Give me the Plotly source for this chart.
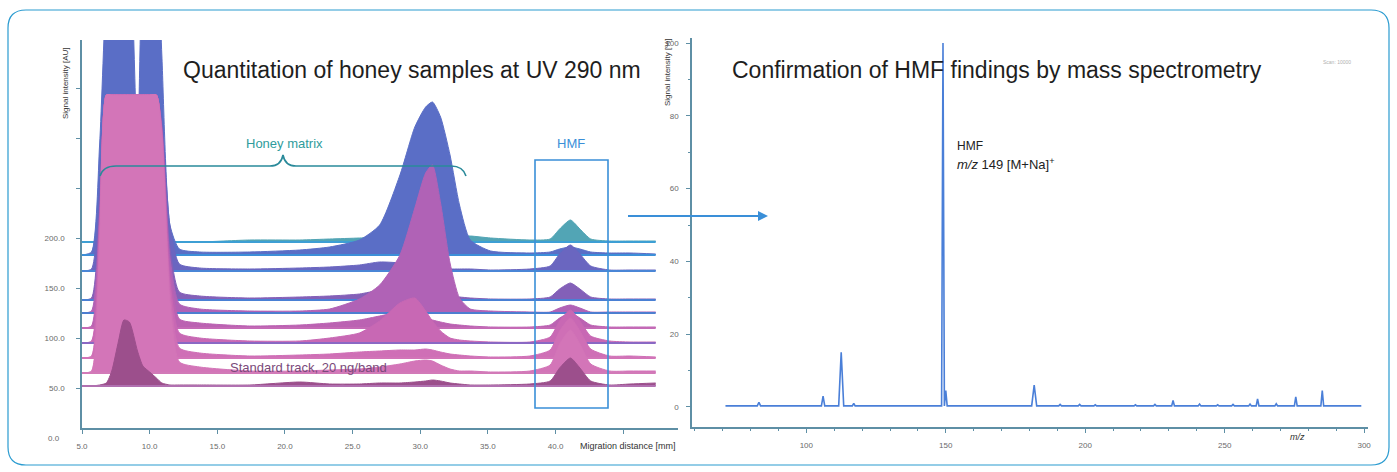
import plotly.graph_objects as go

W, H = 1397, 472

# ---------------- Left panel: HPTLC densitograms (waterfall) ----------------
migration_mm = [5.0, 5.7, 6.3, 6.8, 7.2, 7.7, 8.1, 8.5, 9.1, 9.5, 10.0, 10.5, 10.9, 11.5, 12.2, 13.7,
                17.4, 21.1, 23.3, 25.5, 27.0, 28.5, 29.6, 30.4, 30.9, 31.5, 32.2, 32.9, 33.7, 35.2, 38.1,
                39.6, 40.3, 41.1, 41.8, 42.6, 44.0, 45.5, 47.4]

track_offsets = [196, 183, 167, 138, 125, 110, 95, 80, 65, 52]

track1 = [0, 0, 0, 0, 0, 0, 0, 0, 0, 0, 0, 0, 0, 0, 0, 0,
          2, 2, 3, 4, 5, 6, 8, 10, 10, 9, 8, 6, 6, 4, 2,
          3, 13, 22, 13, 3, 1, 1, 1]
track2 = [0, 3, 110, 270, 330, 340, 340, 320, 105, 300, 340, 320, 200, 30, 6, 3,
          3, 5, 8, 15, 30, 80, 128, 148, 153, 138, 100, 50, 15, 4, 2,
          3, 6, 8, 6, 3, 2, 2, 1]
track3 = [0, 2, 79, 176, 176, 176, 176, 176, 176, 176, 176, 176, 150, 45, 7, 3,
          2, 3, 4, 6, 9, 8, 5, 4, 4, 3, 2, 2, 2, 1, 2,
          5, 17, 26, 17, 5, 1, 1, 1]
track4 = [0, 2, 92, 205, 205, 205, 205, 205, 205, 205, 205, 205, 174, 52, 8, 4,
          2, 3, 4, 6, 10, 14, 12, 10, 8, 6, 4, 3, 2, 1, 1,
          3, 11, 17, 11, 3, 1, 1, 1]
track5 = [0, 2, 98, 218, 218, 218, 218, 218, 218, 218, 218, 218, 185, 55, 9, 4,
          2, 2, 4, 14, 28, 58, 105, 140, 148, 110, 50, 15, 4, 2, 1,
          1, 5, 8, 5, 1, 1, 1, 1]
track6 = [0, 2, 105, 233, 233, 233, 233, 233, 233, 233, 233, 233, 198, 58, 9, 5,
          2, 3, 5, 8, 12, 16, 14, 10, 8, 6, 4, 3, 2, 1, 1,
          3, 10, 15, 10, 3, 1, 1, 1]
track7 = [0, 2, 112, 248, 248, 248, 248, 248, 248, 248, 248, 248, 211, 62, 10, 5,
          2, 2, 5, 10, 22, 40, 45, 32, 22, 12, 5, 3, 2, 1, 1,
          6, 22, 33, 22, 7, 2, 1, 1]
track8 = [0, 2, 118, 263, 263, 263, 263, 263, 263, 263, 263, 263, 224, 66, 10, 5,
          2, 3, 4, 6, 7, 8, 8, 9, 8, 6, 4, 3, 2, 1, 2,
          8, 27, 40, 27, 9, 2, 2, 1]
track9 = [0, 2, 125, 278, 278, 278, 278, 278, 278, 278, 278, 278, 236, 70, 11, 6,
          2, 2, 3, 4, 6, 9, 12, 13, 12, 8, 4, 2, 2, 1, 2,
          8, 29, 43, 29, 9, 2, 2, 2]
track10 = [0, 0, 1, 3, 15, 45, 66, 64, 35, 20, 14, 8, 3, 1, 1, 1,
           1, 4, 2, 2, 3, 3, 4, 5, 6, 5, 3, 2, 1, 1, 2,
           5, 18, 28, 18, 5, 1, 2, 3]
tracks = [track1, track2, track3, track4, track5, track6, track7, track8, track9, track10]

fill_colors = ['#52a5b5', '#5a6ec6', '#6a66c0', '#8360b8', '#b062b6',
               '#bb62b2', '#c868b4', '#cf6fb6', '#d375b8', '#9c4f8c']
line_colors = ['#3d9fd4', '#3d8fd8', '#4a86d6', '#4a80d4', '#4d7ed0',
               '#c46ab6', '#8a68c4', '#d274b8', '#d27ab8', '#b070b0']

x_ticks_mm = [5, 10, 15, 20, 25, 30, 35, 40, 45]
x_tick_text = ['5.0', '10.0', '15.0', '20.0', '25.0', '30.0', '35.0', '40.0', ' ']
y_ticks_au = [50, 100, 150, 200, 250, 300, 350]
y_tick_text = ['50.0', '100.0', '150.0', '200.0', ' ', ' ', ' ']

# ---------------- Right panel: mass spectrum ----------------
mz = [71.0, 82.4, 83.0, 83.6, 104.0, 105.4, 106.0, 106.6, 111.6, 112.5, 113.4, 116.5, 117.0, 117.5,
      147.0, 148.5, 149.0, 149.5, 150.0, 150.5, 152.0, 180.8, 181.7, 182.6, 190.5, 191.0, 191.5,
      197.5, 198.0, 198.5, 203.1, 203.6, 204.1, 213.1, 213.6, 214.1, 217.5, 218.0, 218.5,
      224.5, 225.0, 225.5, 231.0, 231.5, 232.0, 240.5, 241.0, 241.5, 247.0, 247.5, 248.0,
      252.5, 253.0, 253.5, 258.6, 259.1, 259.6, 261.3, 261.8, 262.3, 268.0, 268.5, 269.0,
      275.0, 275.5, 276.0, 284.5, 285.0, 285.5, 299.0]
intensity = [0.3, 0.3, 1.3, 0.3, 0.3, 0.3, 3.0, 0.3, 0.3, 15.0, 0.3, 0.3, 1.0, 0.3,
             0.3, 0.3, 100.0, 0.3, 4.5, 0.3, 0.3, 0.3, 6.0, 0.3, 0.3, 0.7, 0.3,
             0.3, 0.7, 0.3, 0.3, 0.6, 0.3, 0.3, 0.5, 0.3, 0.3, 0.6, 0.3,
             0.3, 0.7, 0.3, 0.3, 1.8, 0.3, 0.3, 0.8, 0.3, 0.3, 0.6, 0.3,
             0.3, 0.7, 0.3, 0.3, 0.8, 0.3, 0.3, 2.2, 0.3, 0.3, 0.9, 0.3,
             0.3, 2.8, 0.3, 0.3, 4.5, 0.3, 0.3]
mz_ticks = [100, 150, 200, 250, 300]
pct_ticks = [0, 20, 40, 60, 80, 100]

FONT = 'Liberation Sans, Arial, sans-serif'
AXIS_COLOR = '#5e8fa5'
TICK_FONT = dict(family=FONT, size=8, color='#6a6a6a')


def px(x):
    return x / W


def py(y):
    return 1 - y / H


fig = go.Figure()

for off, h, fc, lc in zip(track_offsets, tracks, fill_colors, line_colors):
    base = [off] * len(migration_mm)
    fig.add_trace(go.Scatter(x=migration_mm, y=base, mode='lines', line=dict(width=0, color=lc),
                             xaxis='x', yaxis='y', hoverinfo='skip', showlegend=False))
    fig.add_trace(go.Scatter(x=migration_mm, y=[off + v for v in h], mode='lines',
                             line=dict(width=1, color=fc, shape='spline', smoothing=0.6),
                             fill='tonexty', fillcolor=fc, opacity=0.95,
                             xaxis='x', yaxis='y', hoverinfo='skip', showlegend=False))
    fig.add_trace(go.Scatter(x=migration_mm, y=base, mode='lines', line=dict(width=2, color=lc),
                             xaxis='x', yaxis='y', hoverinfo='skip', showlegend=False))

fig.add_trace(go.Scatter(x=mz, y=intensity, mode='lines', line=dict(width=1.6, color='#4a7fd8'),
                         xaxis='x2', yaxis='y2', hoverinfo='skip', showlegend=False))

common_axis = dict(showline=True, linecolor=AXIS_COLOR, linewidth=1.5, ticks='outside',
                   tickcolor=AXIS_COLOR, ticklen=4, tickfont=TICK_FONT, showgrid=False,
                   zeroline=False, automargin=False)

fig.update_layout(
    width=W, height=H,
    margin=dict(l=0, r=0, t=0, b=0),
    paper_bgcolor='white', plot_bgcolor='rgba(0,0,0,0)',
    showlegend=False,
    xaxis=dict(domain=[px(82), px(678)], range=[5.0, 49.05], anchor='y',
               tickvals=x_ticks_mm, ticktext=x_tick_text, ticklabelstandoff=6, **common_axis),
    yaxis=dict(domain=[py(428), py(40)], range=[10, 398], anchor='x',
               tickvals=y_ticks_au, ticktext=y_tick_text, ticklabelstandoff=10, **common_axis),
    xaxis2=dict(domain=[px(692), px(1368)], range=[59, 301.4], anchor='y2',
                tickvals=mz_ticks, ticklabelstandoff=6,
                minor=dict(dtick=10, tick0=0, ticks='outside', ticklen=2, tickcolor=AXIS_COLOR),
                **common_axis),
    yaxis2=dict(domain=[py(427), py(38)], range=[-5.5, 101.4], anchor='x2',
                tickvals=pct_ticks, ticklabelstandoff=6,
                minor=dict(dtick=10, tick0=0, ticks='outside', ticklen=2, tickcolor=AXIS_COLOR),
                **common_axis),
)


def ann(x, y, text, size=11, color='#222222', xanchor='center', angle=0, **kw):
    fig.add_annotation(x=px(x), y=py(y), xref='paper', yref='paper', text=text, showarrow=False,
                       xanchor=xanchor, yanchor='middle', textangle=angle,
                       font=dict(family=FONT, size=size, color=color), **kw)


ann(412, 70, 'Quantitation of honey samples at UV 290 nm', size=23, color='#1e1e1e')
ann(997, 70, 'Confirmation of HMF findings by mass spectrometry', size=23, color='#1e1e1e')
ann(284, 143, 'Honey matrix', size=13, color='#2f9c9c')
ann(571, 143, 'HMF', size=13, color='#3a8fd8')
ann(308, 367, 'Standard track, 20 ng/band', size=13, color='#7a4a7a')
ann(955, 146, 'HMF', size=12, xanchor='left')
ann(955, 164, '<i>m/z</i> 149 [M+Na]<sup>+</sup>', size=13, xanchor='left')
ann(66, 83, 'Signal intensity [AU]', size=8, color='#333333', angle=-90)
ann(667, 72, 'Signal intensity [%]', size=8, color='#333333', angle=-90)
ann(628, 446, 'Migration distance [mm]', size=9, color='#333333')
ann(1297, 437, '<i>m/z</i>', size=9, color='#333333')
ann(54, 438, '0.0', size=8, color='#6a6a6a')
ann(1337, 62, 'Scan: 10000', size=5, color='#b0b0b0')

# arrow from chromatogram to mass spectrum
fig.add_annotation(x=px(768), y=py(216), xref='paper', yref='paper', ax=-143, ay=0,
                   axref='pixel', ayref='pixel', text=' ', showarrow=True,
                   arrowhead=2, arrowsize=1, arrowwidth=2, arrowcolor='#3a8fd8')

# HMF box
fig.add_shape(type='rect', xref='paper', yref='paper', x0=px(535), x1=px(608), y0=py(408), y1=py(160),
              line=dict(color='#3a8fd8', width=1.6))

# Honey-matrix brace
brace_pts = [('M', 100, 176), ('Q', 103, 166, 116, 166), ('L', 270, 166), ('Q', 281, 166, 283, 155),
             ('Q', 285, 166, 296, 166), ('L', 451, 166), ('Q', 463, 166, 466, 176)]
path = ''
for item in brace_pts:
    cmd, vals = item[0], item[1:]
    coords = []
    for i in range(0, len(vals), 2):
        coords.append(f'{px(vals[i]):.5f},{py(vals[i + 1]):.5f}')
    path += cmd + ' ' + ' '.join(coords) + ' '
fig.add_shape(type='path', xref='paper', yref='paper', path=path,
              line=dict(color='#2a8a9a', width=1.6))

# Rounded outer border
x0, y0, x1, y1, r = 8, 10, 1389, 465, 18
border = (f'M {px(x0 + r)},{py(y0)} L {px(x1 - r)},{py(y0)} Q {px(x1)},{py(y0)} {px(x1)},{py(y0 + r)} '
          f'L {px(x1)},{py(y1 - r)} Q {px(x1)},{py(y1)} {px(x1 - r)},{py(y1)} '
          f'L {px(x0 + r)},{py(y1)} Q {px(x0)},{py(y1)} {px(x0)},{py(y1 - r)} '
          f'L {px(x0)},{py(y0 + r)} Q {px(x0)},{py(y0)} {px(x0 + r)},{py(y0)} Z')
fig.add_shape(type='path', xref='paper', yref='paper', path=border,
              line=dict(color='#2a9bd0', width=1.2))

fig.write_html('out.html', config={'displayModeBar': False},
               post_script="document.body.style.margin='0px';document.body.style.overflow='hidden';")
